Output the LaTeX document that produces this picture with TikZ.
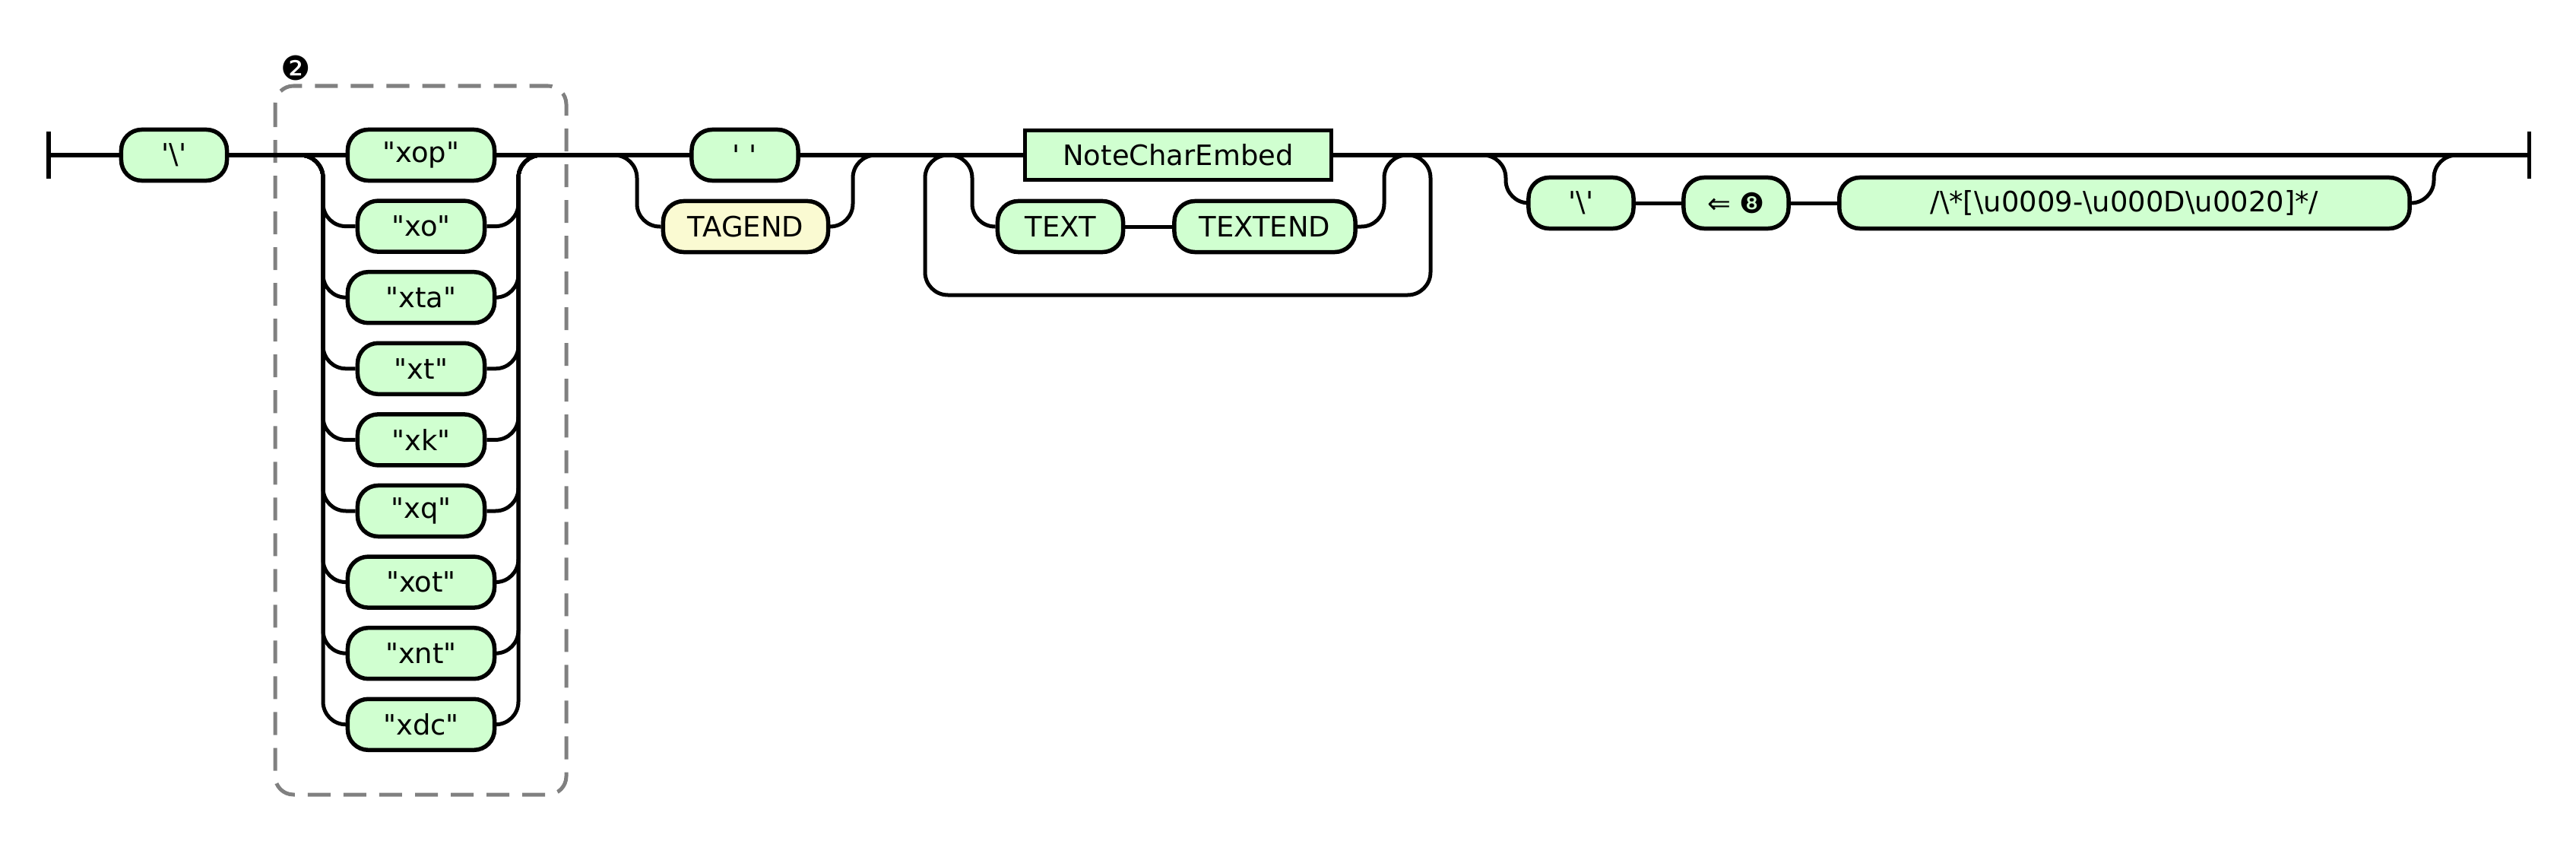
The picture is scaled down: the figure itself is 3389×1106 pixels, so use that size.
\documentclass[tikz,border=0pt]{standalone}
\usepackage{fontspec}
\setmainfont{DejaVu Sans}
\usetikzlibrary{calc}
\definecolor{termgreen}{RGB}{208,255,208}
\definecolor{tagyellow}{RGB}{250,250,210}
\tikzset{
  term/.style={draw, line width=0.055cm, fill=termgreen, rounded corners=0.27cm, minimum height=0.67cm, inner sep=0pt, font=\fontsize{10.5}{12}\selectfont},
  nterm/.style={term, sharp corners},
  rail/.style={rounded corners=0.3cm},
}

\begin{document}
\begin{tikzpicture}[x=0.01cm, y=-0.01cm, line width=0.05cm]
    \fill[white] (0,0) rectangle (3389,1106);
    \useasboundingbox (0,0) rectangle (3389,1106);

    % group box
    \draw[gray, dash pattern=on 0.3cm off 0.17cm, rounded corners=0.24cm] (362,113) rectangle (745,1045);
    \node[font=\fontsize{12.5}{14}\selectfont] (grplbl) at (389,89) {❷};

    \node[term, minimum width=1.39cm] (bsa) at (229,204) {\textquotesingle\textbackslash\textquotesingle};
    \foreach \n/\w [count=\i from 0] in {xop/1.93, xo/1.67, xta/1.93, xt/1.67, xk/1.67, xq/1.67, xot/1.93, xnt/1.93, xdc/1.93} {
        \node[term, minimum width=\w cm] (c\i) at (554,204+93.6*\i) {\textquotedbl\n\textquotedbl};
    }
    \node[term, minimum width=1.40cm] (sp) at (980,204) {\textquotesingle\ \textquotesingle};
    \node[term, fill=tagyellow, minimum width=2.17cm] (tag) at (981,298) {TAGEND};
    \node[nterm, minimum width=4.03cm, minimum height=0.65cm] (nce) at (1550,204) {NoteCharEmbed};
    \node[term, minimum width=1.65cm] (txt) at (1395,298) {TEXT};
    \node[term, minimum width=2.38cm] (txe) at (1664,298) {TEXTEND};
    \node[term, minimum width=1.38cm] (bsb) at (2080,267) {\textquotesingle\textbackslash\textquotesingle};
    \node[term, minimum width=1.38cm] (bk) at (2284,267) {⇐ ❽};
    \node[term, minimum width=7.50cm] (rx) at (2795,267) {/\textbackslash*[\textbackslash u0009-\textbackslash u000D\textbackslash u0020]*/};

    \coordinate (st) at (64,204);
    \coordinate (en) at (3327,204);
    \coordinate (chL) at (425,204);
    \coordinate (chR) at (682,204);
    \coordinate (opL) at (838,204);
    \coordinate (opR) at (1122,204);
    \coordinate (lpL) at (1279,204);
    \coordinate (lpR) at (1821,204);
    \coordinate (lbL) at (1217,388);
    \coordinate (lbR) at (1882,388);
    \coordinate (o3L) at (1981,204);
    \coordinate (o3R) at (3202,204);

    % main line
    \draw ($(st)+(0,-31)$) -- ($(st)+(0,31)$);
    \draw ($(en)+(0,-31)$) -- ($(en)+(0,31)$);
    \draw (st) -- (bsa.west) (bsa.east) -- (c0.west) (c0.east) -- (sp.west) (sp.east) -- (nce.west) (nce.east) -- (en);

    % choice
    \foreach \i in {1,...,8} {
        \draw[rail] (bsa.east) -| (chL |- c\i) -- (c\i.west);
        \draw[rail] (c\i.east) -| (chR) -- (sp.west);
    }

    % optional TAGEND
    \draw[rail] (c0.east) -| (opL |- tag) -- (tag.west);
    \draw[rail] (tag.east) -| (opR) -- (nce.west);

    % loop
    \draw[rail] (sp.east) -| (lpL |- txt) -- (txt.west);
    \draw (txt.east) -- (txe.west);
    \draw[rail] (txe.east) -| (lpR) -- (en);
    \draw[rail] (nce.east) -| (lbR) -| (lbL |- nce) -- (nce.west);

    % optional tail
    \draw[rail] (nce.east) -| (o3L |- bsb) -- (bsb.west);
    \draw (bsb.east) -- (bk.west) (bk.east) -- (rx.west);
    \draw[rail] (rx.east) -| (o3R) -- (en);
\end{tikzpicture}
\end{document}
